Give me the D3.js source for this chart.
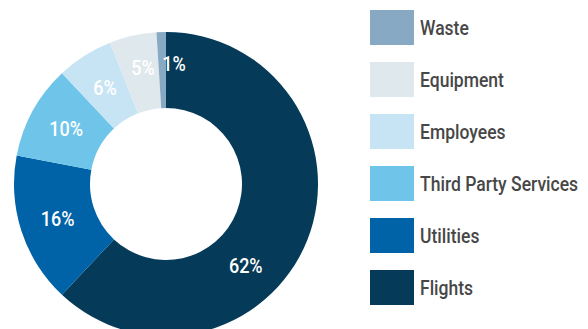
<!DOCTYPE html>
<html>
<head>
<meta charset="utf-8">
<script src="https://cdn.jsdelivr.net/npm/d3@7/dist/d3.min.js"></script>
<style>
  html, body { margin: 0; padding: 0; background: #ffffff; }
  svg { display: block; }
  text { font-family: Roboto, "Liberation Sans", Arial, sans-serif; }
</style>
</head>
<body>
<svg id="chart" width="588" height="329"></svg>
<script>
// Emission sources, in drawing order (clockwise from 12 o'clock)
const categories = ["Flights", "Utilities", "Third Party Services", "Employees", "Equipment", "Waste"];
const shares = [62, 16, 10, 6, 5, 1];
const colors = ["#053a58", "#0062a7", "#6ec5e9", "#c7e4f4", "#dfe8ec", "#87a9c4"];
// Legend lists the sources from smallest to largest
const legendOrder = ["Waste", "Equipment", "Employees", "Third Party Services", "Utilities", "Flights"];

const svg = d3.select("#chart");
const cx = 166, cy = 184, outerR = 152, innerR = 76;

const color = d3.scaleOrdinal().domain(categories).range(colors);

const pie = d3.pie().sort(null).value(d => d.value).startAngle(0).endAngle(2 * Math.PI);
const data = categories.map((c, i) => ({ name: c, value: shares[i] }));
const arcs = pie(data);

const arc = d3.arc().innerRadius(innerR).outerRadius(outerR);

const g = svg.append("g").attr("transform", `translate(${cx},${cy})`);

g.selectAll("path.slice")
  .data(arcs)
  .join("path")
  .attr("class", "slice")
  .attr("d", arc)
  .attr("fill", d => color(d.data.name));

// Percentage labels sit in the ring; a few are nudged for legibility
const labelTweak = {
  "Flights": { rot: 24, r: 114 },
  "Waste": { rot: 5.6, r: 120 },
  "Equipment": { rot: 1.4, r: 118 }
};
g.selectAll("text.pct")
  .data(arcs)
  .join("text")
  .attr("class", "pct")
  .attr("transform", d => {
    const t = labelTweak[d.data.name] || { rot: 0, r: 114 };
    const a = (d.startAngle + d.endAngle) / 2 + t.rot * Math.PI / 180;
    return `translate(${Math.sin(a) * t.r},${-Math.cos(a) * t.r}) scale(0.9,1)`;
  })
  .attr("text-anchor", "middle")
  .attr("dy", "0.36em")
  .attr("fill", "#ffffff")
  .attr("font-size", 20)
  .attr("font-weight", 500)
  .text(d => d.value + "%");

// Legend
const legend = svg.append("g").attr("transform", "translate(370,10)");
const rowY = d3.scaleBand().domain(legendOrder).range([0, 312]).paddingInner(0);
const item = legend.selectAll("g.item")
  .data(legendOrder)
  .join("g")
  .attr("class", "item")
  .attr("transform", d => `translate(0,${rowY(d)})`);

item.append("rect")
  .attr("width", 44)
  .attr("height", 35)
  .attr("fill", d => color(d));

item.append("text")
  .attr("transform", "translate(50,24.5) scale(0.835,1)")
  .attr("fill", "#474747")
  .attr("font-size", 21)
  .attr("font-weight", 500)
  .text(d => d);
</script>
</body>
</html>
